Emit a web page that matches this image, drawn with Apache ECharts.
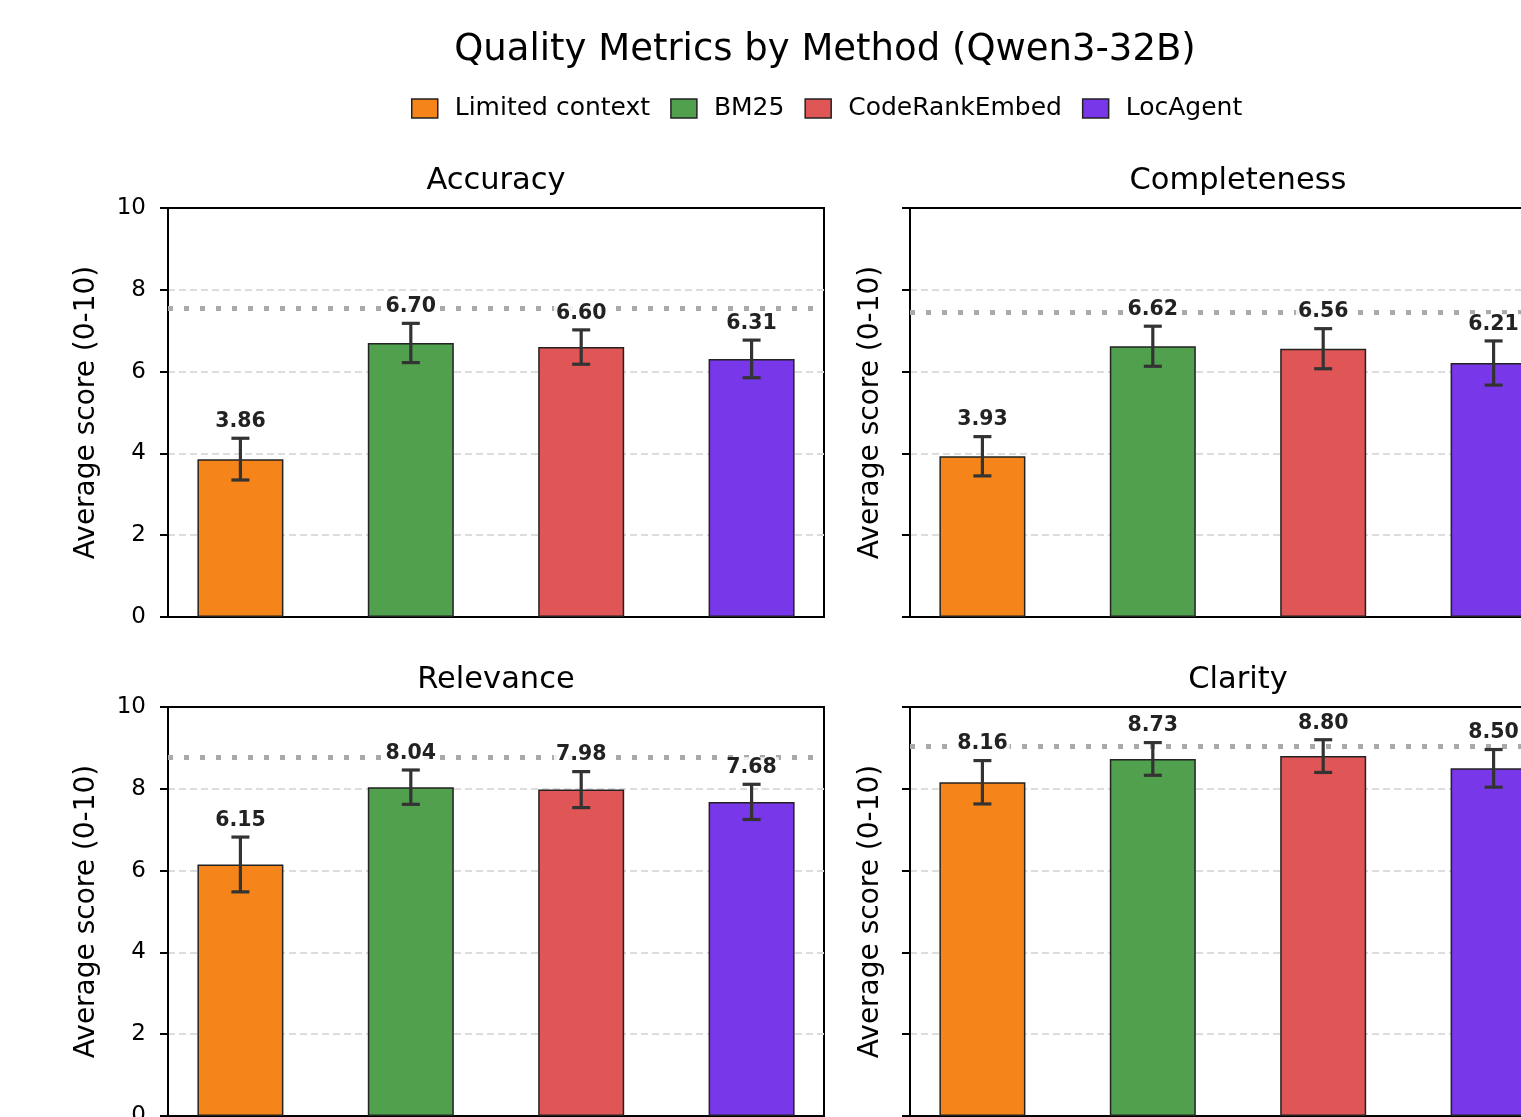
<!DOCTYPE html>
<html>
<head>
<meta charset="utf-8">
<script src="https://cdn.jsdelivr.net/npm/echarts@6/dist/echarts.min.js"></script>
<style>
  html, body { margin: 0; padding: 0; background: #fff; }
  #chart { width: 1521px; height: 1117px; }
</style>
</head>
<body>
<div id="chart"></div>
<script>
// 数据
var methods = ['Limited context', 'BM25', 'CodeRankEmbed', 'LocAgent'];
var metrics = ['Accuracy', 'Completeness', 'Relevance', 'Clarity'];
var colors = ['#f5841a', '#50a04d', '#e05555', '#7837e8'];

var accuracy = [3.86, 6.70, 6.60, 6.31];
var accuracyErr = [0.51, 0.48, 0.42, 0.46];
var completeness = [3.93, 6.62, 6.56, 6.21];
var completenessErr = [0.48, 0.49, 0.49, 0.54];
var relevance = [6.15, 8.04, 7.98, 7.68];
var relevanceErr = [0.67, 0.42, 0.44, 0.43];
var clarity = [8.16, 8.73, 8.80, 8.50];
var clarityErr = [0.53, 0.40, 0.40, 0.46];
var refLines = [7.56, 7.45, 8.78, 9.04];
var yTicks = [0, 2, 4, 6, 8, 10];

var values = [accuracy, completeness, relevance, clarity];
var errors = [accuracyErr, completenessErr, relevanceErr, clarityErr];

var chart = echarts.init(document.getElementById('chart'));

var grids = [
	{ left: 168, top: 208 },
	{ left: 910, top: 208 },
	{ left: 168, top: 707 },
	{ left: 910, top: 707 }
];

var font = 'DejaVu Sans';
var titles = [{
	text: 'Quality Metrics by Method (Qwen3-32B)',
	left: 820,
	top: 27,
	textAlign: 'center',
	textStyle: { fontFamily: font, fontSize: 37, fontWeight: 'normal', color: '#000' }
}];
var gridOpts = [], xAxes = [], yAxes = [], series = [];

var each = function(arr, fn) { for (var i = 0; i < arr.length; i++) fn(i, arr[i]); };

each(grids, function(g, pos) {
	titles.push({
		text: metrics[g],
		left: pos.left + 323,
		top: pos.top - 47,
		textAlign: 'center',
		textStyle: { fontFamily: font, fontSize: 30.5, fontWeight: 'normal', color: '#000' }
	});
	gridOpts.push({
		left: pos.left, top: pos.top, width: 656, height: 409,
		outerBoundsMode: 'none',
		containLabel: false,
		show: true, borderColor: '#000', borderWidth: 2, backgroundColor: 'transparent'
	});
	xAxes.push({
		gridIndex: g, type: 'value', min: -0.425, max: 3.425,
		axisLabel: { show: false }, axisTick: { show: false }, splitLine: { show: false },
		axisLine: { show: true, onZero: false, lineStyle: { color: '#000', width: 2 } }
	});
	yAxes.push({
		gridIndex: g, type: 'value', min: 0, max: 10, interval: 2,
		name: 'Average score (0-10)',
		nameLocation: 'middle',
		nameGap: g % 2 === 0 ? 67 : 25,
		nameTextStyle: { fontFamily: font, fontSize: 28, color: '#000' },
		axisLine: { show: true, onZero: false, lineStyle: { color: '#000', width: 2 } },
		axisTick: { show: true, length: 8, lineStyle: { color: '#000', width: 2 } },
		axisLabel: {
			show: g % 2 === 0, margin: 22,
			fontFamily: font, fontSize: 23, color: '#000',
			formatter: function(v) { return yTicks.indexOf(v) >= 0 ? String(v) : ''; }
		},
		splitLine: {
			show: true, showMinLine: false, showMaxLine: false,
			lineStyle: { color: '#dddddd', width: 2, type: [7, 4] }
		}
	});

	each(methods, function(m, name) {
		var s = {
			name: name,
			type: 'bar',
			xAxisIndex: g,
			yAxisIndex: g,
			barWidth: 86,
			barGap: '-100%',
			itemStyle: { color: colors[m], borderColor: '#222', borderWidth: 1.5 },
			data: [[m, values[g][m]]],
			z: 2
		};
		if (m === 0) {
			// 参考虚线
			s.markLine = {
				silent: true, symbol: 'none', label: { show: false },
				lineStyle: { color: '#aaaaaa', width: 5, type: [5, 11] },
				data: [{ yAxis: refLines[g] }],
				z: 3
			};
		}
		series.push(s);
	});

	// 误差线 + 数值标签
	var errData = [];
	each(methods, function(m) { errData.push([m, values[g][m], errors[g][m]]); });
	series.push({
		type: 'custom',
		xAxisIndex: g,
		yAxisIndex: g,
		z: 5,
		clip: false,
		data: errData,
		renderItem: function(params, api) {
			var x = api.value(0), v = api.value(1), e = api.value(2);
			var top = api.coord([x, v + e]), bot = api.coord([x, v - e]);
			var cap = 9, st = { stroke: '#333', lineWidth: 3.2 };
			return { type: 'group', children: [
				{ type: 'line', shape: { x1: top[0], y1: top[1], x2: bot[0], y2: bot[1] }, style: st },
				{ type: 'line', shape: { x1: top[0] - cap, y1: top[1], x2: top[0] + cap, y2: top[1] }, style: st },
				{ type: 'line', shape: { x1: bot[0] - cap, y1: bot[1], x2: bot[0] + cap, y2: bot[1] }, style: st },
				{ type: 'text', x: top[0], y: top[1] - 6, style: {
					text: v.toFixed(2), fontFamily: font, fontSize: 20.5, fontWeight: 'bold', fill: '#222',
					align: 'center', verticalAlign: 'bottom',
					backgroundColor: 'rgba(255,255,255,0.85)', padding: [0, 2]
				} }
			] };
		}
	});
});

chart.setOption({
	animation: false,
	backgroundColor: '#fff',
	title: titles,
	legend: {
		data: methods,
		left: 406,
		top: 91,
		icon: 'rect',
		itemWidth: 26,
		itemHeight: 19,
		itemGap: 20,
		itemStyle: { borderColor: '#222', borderWidth: 1.5 },
		textStyle: { fontFamily: font, fontSize: 25, color: '#000', padding: [0, 0, 0, 12] }
	},
	grid: gridOpts,
	xAxis: xAxes,
	yAxis: yAxes,
	series: series
});
</script>
</body>
</html>
